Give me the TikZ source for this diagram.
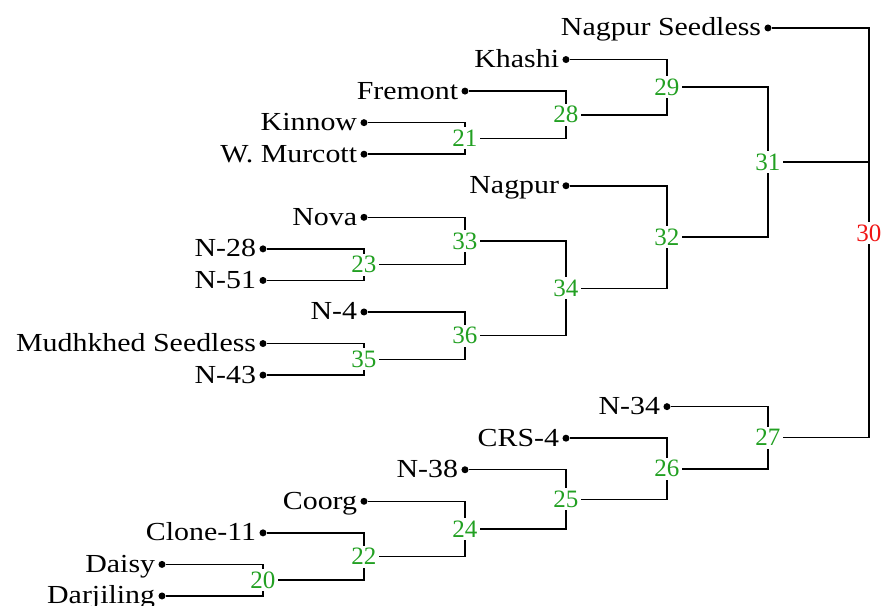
\documentclass[tikz,border=0pt]{standalone}
\usepackage{fontspec}
\setmainfont{Liberation Serif}
\newfontfamily\leaffont{Liberation Serif}[FakeStretch=1.15]
\usetikzlibrary{calc}
\definecolor{numgreen}{RGB}{34,160,34}
\definecolor{numred}{RGB}{240,20,20}
\tikzset{
  leafdot/.style={circle, fill=black, inner sep=0pt, minimum size=7pt},
  leaftext/.style={anchor=base east, inner sep=0pt, xshift=-3pt, yshift=-8pt, font=\leaffont\fontsize{26}{26}\selectfont},
  joinnum/.style={fill=white, inner sep=2.5pt, text=numgreen, font=\fontsize{25}{25}\selectfont},
  link/.style={line width=1.5pt}
}

\begin{document}
\begin{tikzpicture}[x=101pt, y=-31.556pt]
  \useasboundingbox (-0.604,-0.887) rectangle (8.139,18.315);
  \foreach \c in {1,...,8} \coordinate (c\c) at (\c,0);

  % leaves
  \node [leafdot] (nagpurseedless) at (7,0) {};
  \node [leafdot] (khashi) at (5,1) {};
  \node [leafdot] (fremont) at (4,2) {};
  \node [leafdot] (kinnow) at (3,3) {};
  \node [leafdot] (murcott) at (3,4) {};
  \node [leafdot] (nagpur) at (5,5) {};
  \node [leafdot] (nova) at (3,6) {};
  \node [leafdot] (n28) at (2,7) {};
  \node [leafdot] (n51) at (2,8) {};
  \node [leafdot] (n4) at (3,9) {};
  \node [leafdot] (mudhkhed) at (2,10) {};
  \node [leafdot] (n43) at (2,11) {};
  \node [leafdot] (n34) at (6,12) {};
  \node [leafdot] (crs4) at (5,13) {};
  \node [leafdot] (n38) at (4,14) {};
  \node [leafdot] (coorg) at (3,15) {};
  \node [leafdot] (clone11) at (2,16) {};
  \node [leafdot] (daisy) at (1,17) {};
  \node [leafdot] (darjiling) at (1,18) {};

  \node [leaftext] (nagpurseedless-t) at (nagpurseedless.west) {Nagpur Seedless};
  \node [leaftext] (khashi-t) at (khashi.west) {Khashi};
  \node [leaftext] (fremont-t) at (fremont.west) {Fremont};
  \node [leaftext] (kinnow-t) at (kinnow.west) {Kinnow};
  \node [leaftext] (murcott-t) at (murcott.west) {W. Murcott};
  \node [leaftext] (nagpur-t) at (nagpur.west) {Nagpur};
  \node [leaftext] (nova-t) at (nova.west) {Nova};
  \node [leaftext] (n28-t) at (n28.west) {N-28};
  \node [leaftext] (n51-t) at (n51.west) {N-51};
  \node [leaftext] (n4-t) at (n4.west) {N-4};
  \node [leaftext] (mudhkhed-t) at (mudhkhed.west) {Mudhkhed Seedless};
  \node [leaftext] (n43-t) at (n43.west) {N-43};
  \node [leaftext] (n34-t) at (n34.west) {N-34};
  \node [leaftext] (crs4-t) at (crs4.west) {CRS-4};
  \node [leaftext] (n38-t) at (n38.west) {N-38};
  \node [leaftext] (coorg-t) at (coorg.west) {Coorg};
  \node [leaftext] (clone11-t) at (clone11.west) {Clone-11};
  \node [leaftext] (daisy-t) at (daisy.west) {Daisy};
  \node [leaftext] (darjiling-t) at (darjiling.west) {Darjiling};

  % joins, each halfway between its two children
  \node [joinnum] (g21) at ($(kinnow -| c4)!.5!(murcott -| c4)$) {21};
  \node [joinnum] (g28) at ($(fremont -| c5)!.5!(g21 -| c5)$) {28};
  \node [joinnum] (g29) at ($(khashi -| c6)!.5!(g28 -| c6)$) {29};
  \node [joinnum] (g23) at ($(n28 -| c3)!.5!(n51 -| c3)$) {23};
  \node [joinnum] (g33) at ($(nova -| c4)!.5!(g23 -| c4)$) {33};
  \node [joinnum] (g35) at ($(mudhkhed -| c3)!.5!(n43 -| c3)$) {35};
  \node [joinnum] (g36) at ($(n4 -| c4)!.5!(g35 -| c4)$) {36};
  \node [joinnum] (g34) at ($(g33 -| c5)!.5!(g36 -| c5)$) {34};
  \node [joinnum] (g32) at ($(nagpur -| c6)!.5!(g34 -| c6)$) {32};
  \node [joinnum] (g31) at ($(g29 -| c7)!.5!(g32 -| c7)$) {31};
  \node [joinnum] (g20) at ($(daisy -| c2)!.5!(darjiling -| c2)$) {20};
  \node [joinnum] (g22) at ($(clone11 -| c3)!.5!(g20 -| c3)$) {22};
  \node [joinnum] (g24) at ($(coorg -| c4)!.5!(g22 -| c4)$) {24};
  \node [joinnum] (g25) at ($(n38 -| c5)!.5!(g24 -| c5)$) {25};
  \node [joinnum] (g26) at ($(crs4 -| c6)!.5!(g25 -| c6)$) {26};
  \node [joinnum] (g27) at ($(n34 -| c7)!.5!(g26 -| c7)$) {27};
  \node [joinnum, text=numred] (g30) at ($(nagpurseedless -| c8)!.5!(g27 -| c8)$) {30};

  \draw [link] (kinnow) -| (g21);
  \draw [link] (murcott) -| (g21);
  \draw [link] (fremont) -| (g28);
  \draw [link] (g21) -| (g28);
  \draw [link] (khashi) -| (g29);
  \draw [link] (g28) -| (g29);
  \draw [link] (n28) -| (g23);
  \draw [link] (n51) -| (g23);
  \draw [link] (nova) -| (g33);
  \draw [link] (g23) -| (g33);
  \draw [link] (mudhkhed) -| (g35);
  \draw [link] (n43) -| (g35);
  \draw [link] (n4) -| (g36);
  \draw [link] (g35) -| (g36);
  \draw [link] (g33) -| (g34);
  \draw [link] (g36) -| (g34);
  \draw [link] (nagpur) -| (g32);
  \draw [link] (g34) -| (g32);
  \draw [link] (g29) -| (g31);
  \draw [link] (g32) -| (g31);
  \draw [link] (daisy) -| (g20);
  \draw [link] (darjiling) -| (g20);
  \draw [link] (clone11) -| (g22);
  \draw [link] (g20) -| (g22);
  \draw [link] (coorg) -| (g24);
  \draw [link] (g22) -| (g24);
  \draw [link] (n38) -| (g25);
  \draw [link] (g24) -| (g25);
  \draw [link] (crs4) -| (g26);
  \draw [link] (g25) -| (g26);
  \draw [link] (n34) -| (g27);
  \draw [link] (g26) -| (g27);
  \draw [link] (nagpurseedless) -| (g30);
  \draw [link] (g27) -| (g30);
  \draw [link] (g31) -- (g31 -| g30);
\end{tikzpicture}
\end{document}
